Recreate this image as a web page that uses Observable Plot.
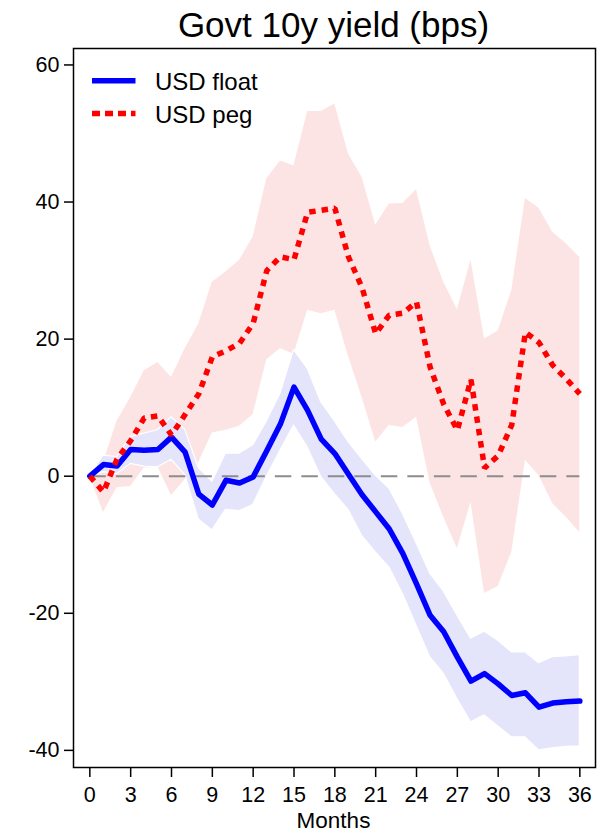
<!DOCTYPE html>
<html><head><meta charset="utf-8">
<script src="https://cdn.jsdelivr.net/npm/d3@7"></script>
<script src="https://cdn.jsdelivr.net/npm/@observablehq/plot@0.6"></script>
<style>body{margin:0;background:#fff;} #chart{width:599px;height:834px;}</style>
</head><body><div id="chart"></div>
<script>
const months = [0,1,2,3,4,5,6,7,8,9,10,11,12,13,14,15,16,17,18,19,20,21,22,23,24,25,26,27,28,29,30,31,32,33,34,35,36];
const floatMid = [0,1.7,1.5,3.9,3.8,3.9,5.7,3.5,-2.6,-4.2,-0.6,-1.0,-0.1,3.7,7.6,13.0,9.6,5.4,3.3,0.3,-2.7,-5.2,-7.7,-11.3,-15.7,-20.3,-22.7,-26.4,-29.9,-28.8,-30.3,-32.0,-31.6,-33.7,-33.1,-32.9,-32.8];
const floatLo = [0,0.6,0.3,1.8,1.4,1.3,2.4,0.2,-6.3,-7.9,-4.9,-5.1,-4.2,-0.1,3.7,7.4,4.2,-0.1,-2.6,-4.9,-8.7,-11.1,-13.3,-17.2,-21.8,-26.4,-28.8,-32.5,-35.9,-34.9,-36.5,-38.1,-38.1,-40.0,-39.7,-39.5,-39.4];
const floatHi = [0,3.0,2.8,5.7,6.2,6.7,8.6,6.8,1.2,-0.8,3.3,3.3,4.5,8.0,12.0,18.4,15.7,10.8,8.0,5.0,2.5,0.1,-1.8,-5.5,-9.8,-14.2,-16.8,-20.3,-23.7,-22.7,-24.0,-25.7,-25.7,-27.3,-26.4,-26.3,-26.1];
const pegMid = [0,-2.3,2.5,5.2,8.5,8.8,6.0,9.0,12.0,17.4,18.3,19.4,22.3,30.0,32.0,31.6,38.5,38.8,39.1,32.0,27.5,20.8,23.5,23.8,25.4,15.9,10.5,6.7,14.1,1.2,3.0,7.5,21.0,19.5,16.2,14.2,12.0];
const pegLo = [0,-5.3,-1.7,-1.5,1.2,1.3,-2.8,-0.5,2.0,6.3,6.7,7.3,9.0,17.0,18.6,17.8,24.2,23.7,24.2,17.5,11.5,5.0,7.4,7.1,8.6,-1.0,-6.0,-10.6,-3.8,-17.1,-16.1,-11.1,2.3,0.1,-4.0,-6.0,-8.2];
const pegHi = [0,2.0,8.0,11.5,15.4,16.6,14.4,18.6,22.2,28.3,29.8,31.5,34.9,43.4,46.0,45.3,53.2,53.2,54.3,47.0,43.6,36.6,39.7,39.8,41.8,33.6,28.3,24.3,31.5,20.0,21.2,27.1,40.5,39.1,35.6,33.9,31.9];
const xTicks = [0,3,6,9,12,15,18,21,24,27,30,33,36];
const yTicks = [-40,-20,0,20,40,60];
const seriesNames = ["USD float","USD peg"];
const titleText = "Govt 10y yield (bps)";
const xLabel = "Months";

const rows = months.map((m,i)=>({m, floatMid:floatMid[i], floatLo:floatLo[i], floatHi:floatHi[i], pegMid:pegMid[i], pegLo:pegLo[i], pegHi:pegHi[i]}));
const zero = [{y:0, x1:d3.min(months), x2:d3.max(months)}];
const FONT = "'Liberation Sans', Arial, Helvetica, sans-serif";
const BLUE = "#0000ff", RED = "#ff0000";
const RED_DASH = "6.5,6";

const plot = Plot.plot({
  width: 599, height: 834,
  marginTop: 48, marginLeft: 73, marginRight: 4, marginBottom: 67,
  style: {fontFamily: FONT, fontSize: "21.5px", color: "black", background: "white", overflow: "visible"},
  x: {domain: [-1.2, 37.15]},
  y: {domain: [-42.5, 62.4]},
  marks: [
    Plot.areaY(rows, {x:"m", y1:"pegLo", y2:"pegHi", fill:"#fde4e4"}),
    Plot.areaY(rows, {x:"m", y1:"floatLo", y2:"floatHi", fill:"#e4e4fb", stroke:"white", strokeWidth:1.2}),
    Plot.ruleY(zero, {y:"y", x1:"x1", x2:"x2", stroke:"#8c8c8c", strokeWidth:2, strokeDasharray:"16.5,10"}),
    Plot.line(rows, {x:"m", y:"floatMid", stroke:BLUE, strokeWidth:5.5}),
    Plot.line(rows, {x:"m", y:"pegMid", stroke:RED, strokeWidth:5.5, strokeDasharray:RED_DASH, strokeLinecap:"butt", strokeLinejoin:"miter"}),
    Plot.frame({stroke:"black", strokeWidth:1.5}),
    Plot.axisY({ticks:yTicks, tickSize:9, tickPadding:5, tickFormat:d=>String(d), label:null, strokeWidth:1.5}),
    Plot.axisX({ticks:xTicks, tickSize:10, tickPadding:9, tickFormat:d=>String(d), label:null, strokeWidth:1.5})
  ]
});
document.getElementById("chart").appendChild(plot);

const svg = d3.select(plot);
svg.append("text").attr("x", 333.5).attr("y", 37).attr("text-anchor","middle")
  .style("font-size","35px").attr("fill","black").text(titleText);
svg.append("text").attr("x", 333.5).attr("y", 828).attr("text-anchor","middle")
  .style("font-size","22.5px").attr("fill","black").text(xLabel);

const lg = svg.append("g").attr("text-anchor","start");
lg.append("line").attr("x1",92).attr("x2",135.5).attr("y1",80.7).attr("y2",80.7)
  .attr("stroke",BLUE).attr("stroke-width",5.5);
lg.append("text").attr("x",155).attr("y",89.5).attr("text-anchor","start").style("font-size","24px").attr("fill","black").text(seriesNames[0]);
lg.append("line").attr("x1",92).attr("x2",135.5).attr("y1",113.5).attr("y2",113.5)
  .attr("stroke",RED).attr("stroke-width",5.5).attr("stroke-dasharray","8,5");
lg.append("text").attr("x",155).attr("y",122.5).attr("text-anchor","start").style("font-size","24px").attr("fill","black").text(seriesNames[1]);
</script>
</body></html>
